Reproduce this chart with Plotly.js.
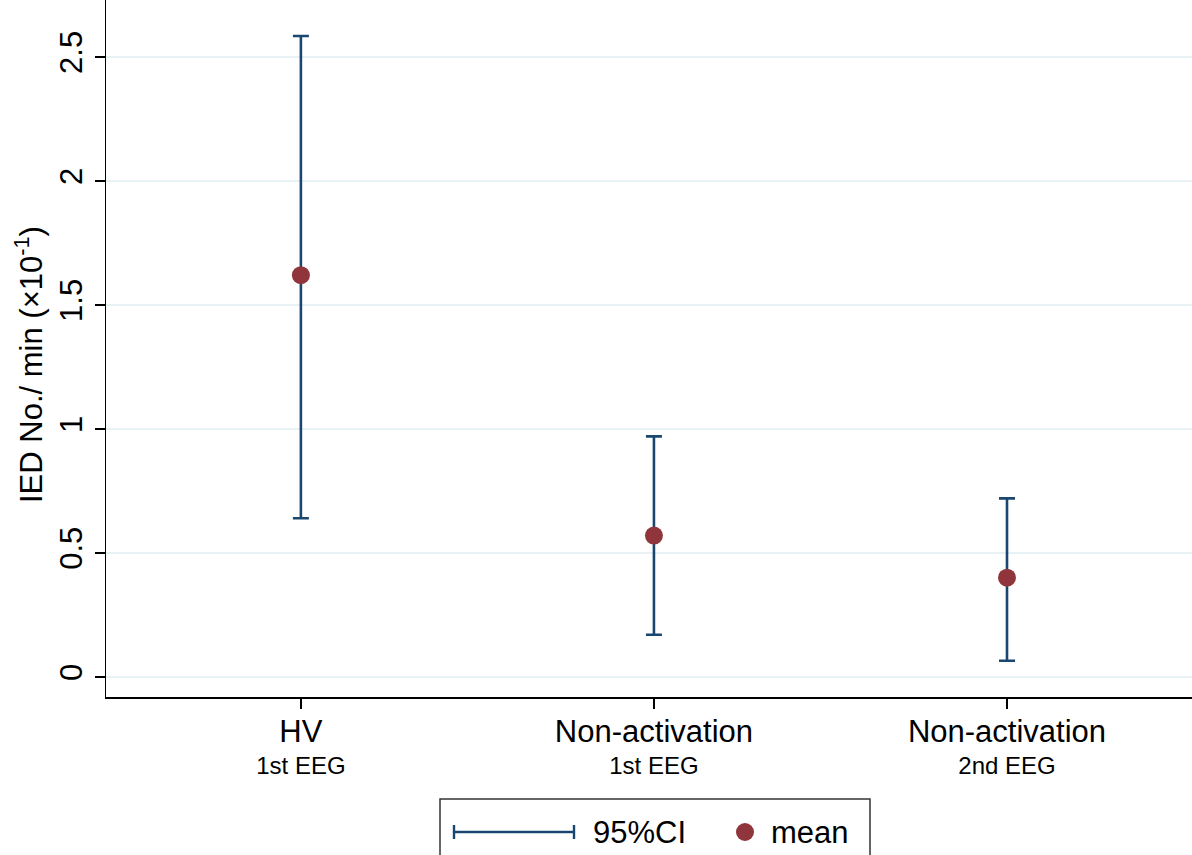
<!DOCTYPE html>
<html>
<head>
<meta charset="utf-8">
<script src="https://cdn.plot.ly/plotly-3.0.1.min.js"></script>
<style>html,body{margin:0;padding:0;background:#fff;}#chart{width:1192px;height:855px;}</style>
</head>
<body>
<div id="chart"></div>
<script>
// Data
const groups = ["HV", "Non-activation", "Non-activation"];
const subLabels = ["1st EEG", "1st EEG", "2nd EEG"];
const means = [1.62, 0.57, 0.40];
const ciLower = [0.64, 0.17, 0.065];
const ciUpper = [2.585, 0.97, 0.72];
const yTicks = [0, 0.5, 1, 1.5, 2, 2.5];
const yTickText = ["0", "0.5", "1", "1.5", "2", "2.5"];
const yTitle = "IED No./ min (×10<sup>-1</sup>)";

const W = 1192, H = 855;
const mL = 106, mR = 0, mT = 0, mB = 158;
const navy = "rgb(26,71,111)";
const maroon = "rgb(144,53,59)";
const font = "Liberation Sans, Arial, Helvetica, sans-serif";

const xIdx = groups.map((g, i) => i);
const tickText = groups.map((g, i) => "<span style='font-size:31px'>" + g + "</span><br><span style='font-size:24px'>" + subLabels[i] + "</span>");

// pixel -> paper helpers for legend / title placement
const px = x => (x - mL) / (W - mL - mR);
const py = y => (H - mB - y) / (H - mB - mT);

const ciTrace = {
  x: xIdx,
  y: means,
  type: "scatter",
  mode: "markers",
  marker: {size: 0.1, color: "rgba(0,0,0,0)"},
  error_y: {
    type: "data",
    symmetric: false,
    array: ciUpper.map((u, i) => u - means[i]),
    arrayminus: means.map((m, i) => m - ciLower[i]),
    color: navy,
    thickness: 2.6,
    width: 8
  },
  showlegend: false,
  hoverinfo: "skip"
};

const meanTrace = {
  x: xIdx,
  y: means,
  type: "scatter",
  mode: "markers",
  marker: {size: 18, color: maroon},
  showlegend: false
};

const legY = 832;
const shapes = [
  // legend box
  {type: "rect", xref: "paper", yref: "paper", x0: px(440), x1: px(870), y0: py(870), y1: py(799),
   line: {color: "#333", width: 1.5}, fillcolor: "white", layer: "above"},
  // CI legend symbol
  {type: "line", xref: "paper", yref: "paper", x0: px(454), x1: px(574), y0: py(legY), y1: py(legY), line: {color: navy, width: 2.4}},
  {type: "line", xref: "paper", yref: "paper", x0: px(454), x1: px(454), y0: py(legY - 7), y1: py(legY + 7), line: {color: navy, width: 2.4}},
  {type: "line", xref: "paper", yref: "paper", x0: px(574), x1: px(574), y0: py(legY - 7), y1: py(legY + 7), line: {color: navy, width: 2.4}},
  // mean legend symbol
  {type: "circle", xref: "paper", yref: "paper", x0: px(736), x1: px(754), y0: py(legY - 9), y1: py(legY + 9),
   fillcolor: maroon, line: {color: maroon, width: 0}}
];

const annotations = [
  {xref: "paper", yref: "paper", x: px(591), y: py(legY), xanchor: "left", yanchor: "middle", text: "95%CI",
   showarrow: false, font: {family: font, size: 31, color: "#000"}},
  {xref: "paper", yref: "paper", x: px(769), y: py(legY), xanchor: "left", yanchor: "middle", text: "mean",
   showarrow: false, font: {family: font, size: 31, color: "#000"}},
  {xref: "paper", yref: "paper", x: px(29), y: py(365), xanchor: "center", yanchor: "middle", text: yTitle,
   textangle: -90, showarrow: false, font: {family: font, size: 31, color: "#000"}}
];

const layout = {
  width: W, height: H,
  margin: {l: mL, r: mR, t: mT, b: mB, pad: 0},
  paper_bgcolor: "white",
  plot_bgcolor: "white",
  showlegend: false,
  xaxis: {
    range: [-0.552, 2.524],
    tickmode: "array",
    tickvals: xIdx,
    ticktext: tickText,
    ticks: "outside",
    ticklen: 10,
    tickwidth: 1.5,
    tickcolor: "#000",
    ticklabelstandoff: 3,
    showgrid: false,
    zeroline: false,
    showline: true,
    linecolor: "#000",
    linewidth: 1.5,
    tickfont: {family: font, size: 25, color: "#000"}
  },
  yaxis: {
    range: [-0.081, 2.73],
    tickmode: "array",
    tickvals: yTicks,
    ticktext: yTickText,
    tickangle: -90,
    ticks: "outside",
    ticklen: 10,
    tickwidth: 1.5,
    tickcolor: "#000",
    showgrid: true,
    gridcolor: "rgb(232,241,243)",
    gridwidth: 2,
    zeroline: false,
    showline: true,
    linecolor: "#000",
    linewidth: 1.5,
    tickfont: {family: font, size: 31, color: "#000"}
  },
  shapes: shapes,
  annotations: annotations
};

Plotly.newPlot("chart", [ciTrace, meanTrace], layout, {displayModeBar: false, staticPlot: true});
</script>
</body>
</html>
